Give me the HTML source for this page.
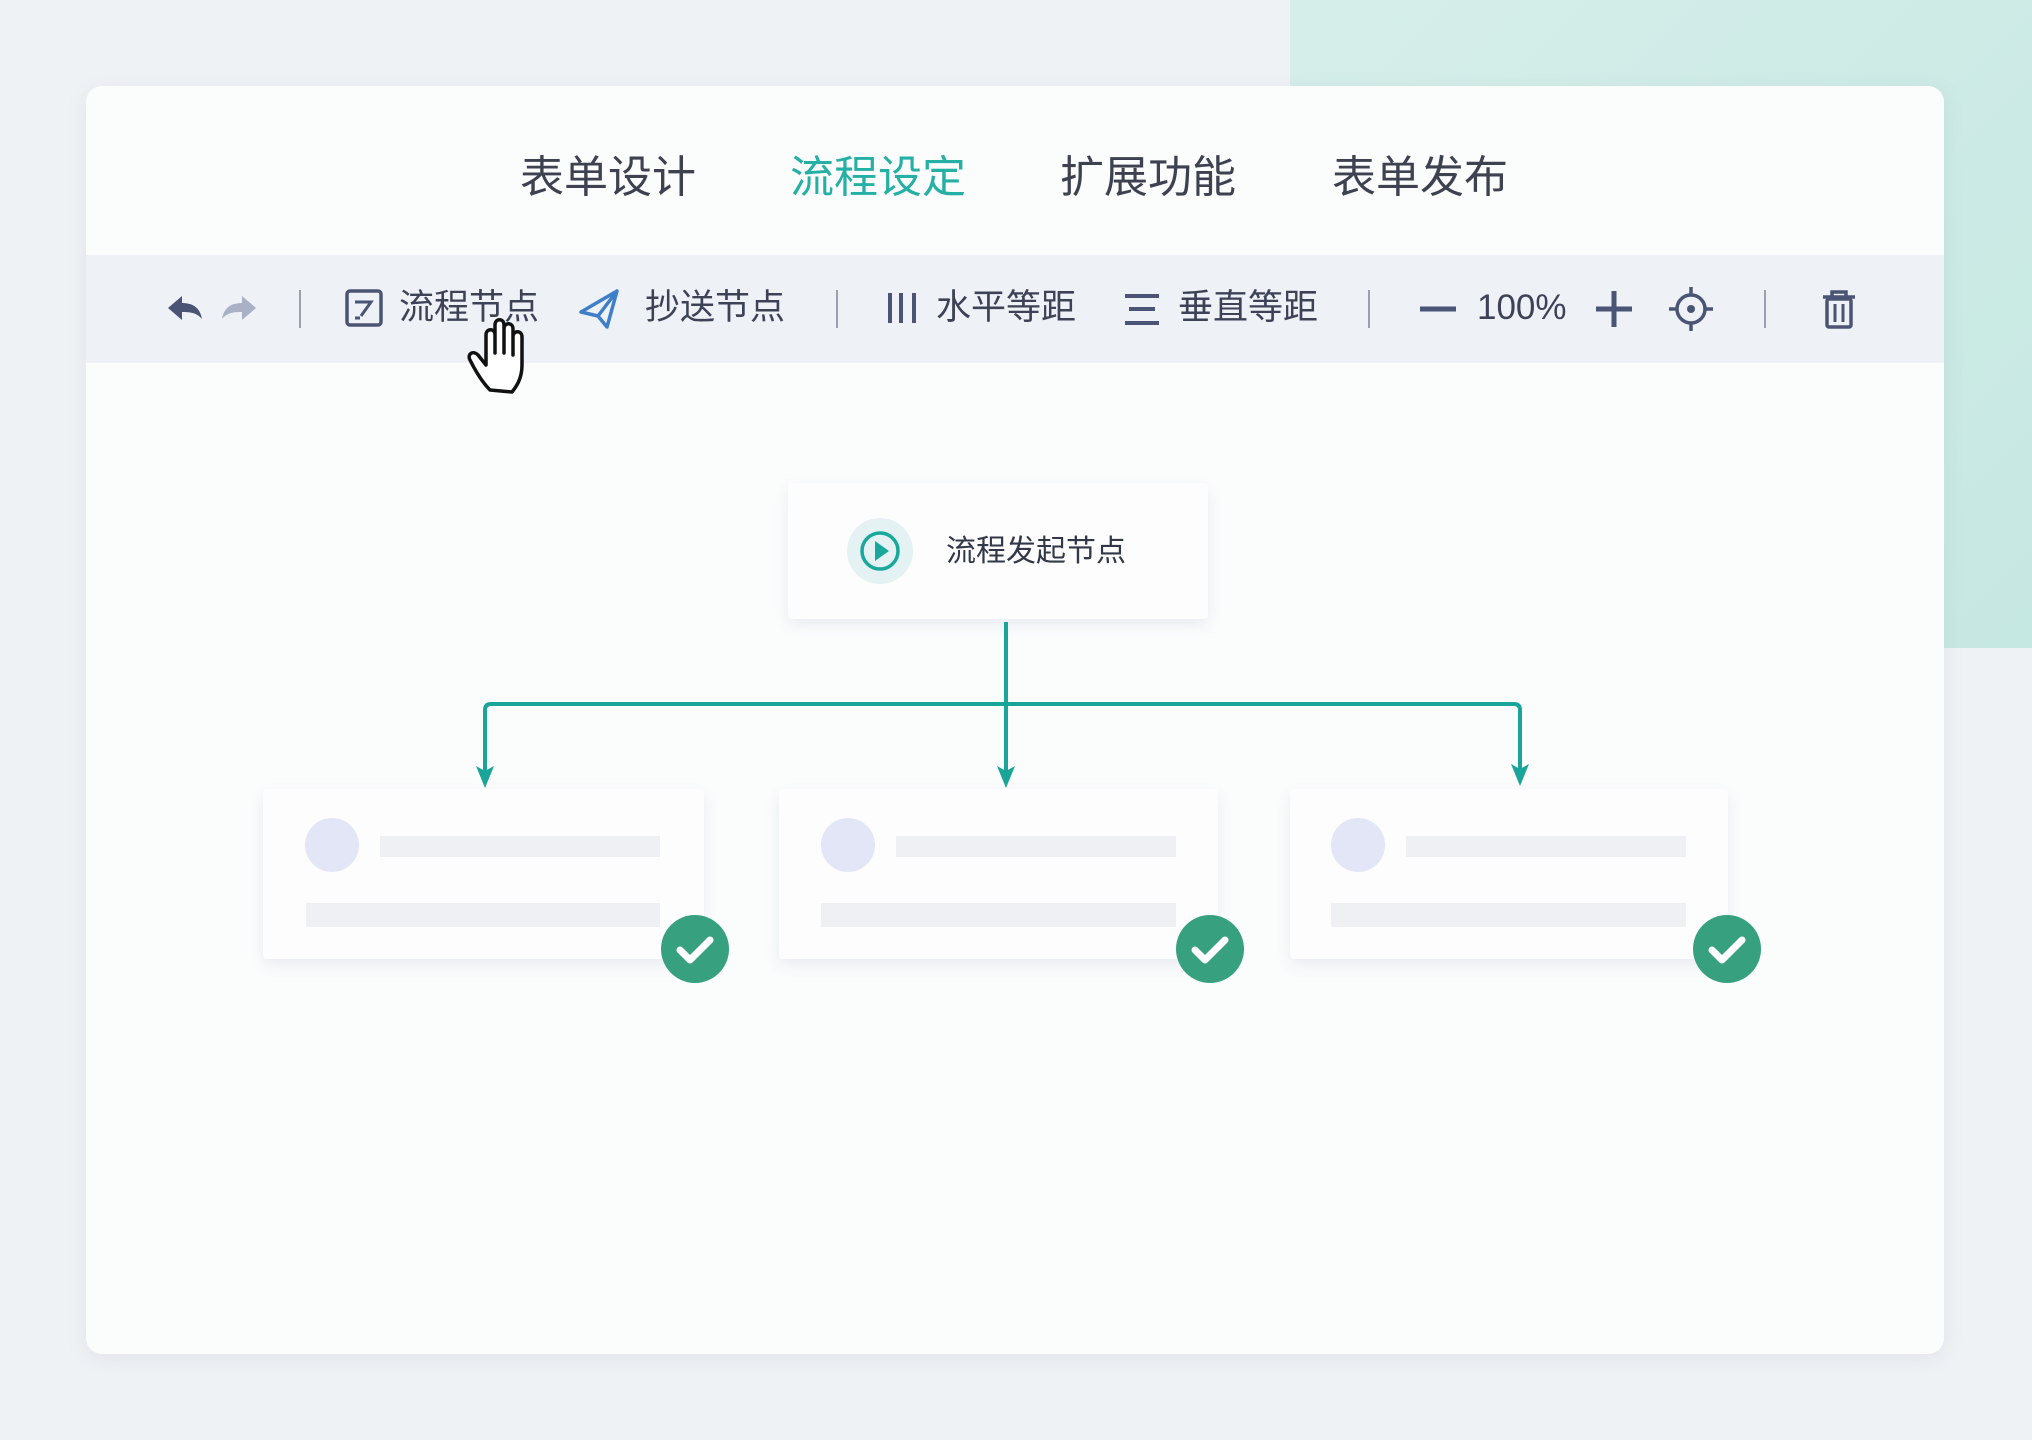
<!DOCTYPE html>
<html><head><meta charset="utf-8"><style>
*{margin:0;padding:0;box-sizing:border-box}
body{width:2032px;height:1440px;overflow:hidden;background:#eff2f5;position:relative;font-family:"Liberation Sans","Noto Sans CJK SC",sans-serif}
.abs{position:absolute}
.teal{left:1290px;top:0;width:742px;height:648px;background:linear-gradient(135deg,#d6eeea,#c6e8e2)}
.card{left:86px;top:86px;width:1858px;height:1268px;background:#fbfcfc;border-radius:16px;box-shadow:0 4px 20px rgba(120,140,160,.12)}
.tab{top:148px;font-size:44px;color:#3d4150;line-height:60px;white-space:nowrap}
.bar{left:86px;top:255px;width:1858px;height:108px;background:#eef1f6}
.tt{top:288px;font-size:35px;color:#3d4257;line-height:40px;white-space:nowrap}
.sep{top:290px;width:2px;height:38px;background:#9aa0ad}
.node{background:#fdfdfd;box-shadow:0 6px 14px rgba(110,120,170,.12);border-radius:4px}
.c{border-radius:50%;background:#e3e6f6}
.b{background:#eef0f3}
</style></head><body>
<div class="abs teal"></div>
<div class="abs card"></div>
<div class="abs tab" style="left:520px">表单设计</div>
<div class="abs tab" style="left:790px;color:#25b0a6">流程设定</div>
<div class="abs tab" style="left:1060px">扩展功能</div>
<div class="abs tab" style="left:1332px">表单发布</div>
<div class="abs bar"></div>
<div class="abs sep" style="left:299px"></div>
<div class="abs sep" style="left:836px"></div>
<div class="abs sep" style="left:1368px"></div>
<div class="abs sep" style="left:1764px"></div>
<div class="abs tt" style="left:399px">流程节点</div>
<div class="abs tt" style="left:645px">抄送节点</div>
<div class="abs tt" style="left:936px">水平等距</div>
<div class="abs tt" style="left:1178px">垂直等距</div>
<div class="abs tt" style="left:1477px">100%</div>

<div class="abs node" style="left:788px;top:483px;width:420px;height:136px"></div>
<div class="abs" style="left:946px;top:532px;font-size:30px;color:#333848;line-height:40px">流程发起节点</div>

<div class="abs node" style="left:263px;top:789px;width:441px;height:170px"></div>
<div class="abs node" style="left:779px;top:789px;width:439px;height:170px"></div>
<div class="abs node" style="left:1290px;top:789px;width:438px;height:170px"></div>
<div class="abs c" style="left:305px;top:818px;width:54px;height:54px"></div>
<div class="abs b" style="left:380px;top:836px;width:280px;height:21px"></div>
<div class="abs b" style="left:306px;top:903px;width:354px;height:24px"></div>
<div class="abs c" style="left:821px;top:818px;width:54px;height:54px"></div>
<div class="abs b" style="left:896px;top:836px;width:280px;height:21px"></div>
<div class="abs b" style="left:821px;top:903px;width:355px;height:24px"></div>
<div class="abs c" style="left:1331px;top:818px;width:54px;height:54px"></div>
<div class="abs b" style="left:1406px;top:836px;width:280px;height:21px"></div>
<div class="abs b" style="left:1331px;top:903px;width:355px;height:24px"></div>

<svg class="abs" style="left:0;top:0" width="2032" height="1440" viewBox="0 0 2032 1440">
<!-- undo/redo -->
<path d="M168 308 l14 -12 v7 c10 0 18 4 20 16 c-5 -6 -11 -7 -20 -7 v8z" fill="#4a5475"/>
<path d="M256 308 l-14 -12 v7 c-10 0 -18 4 -20 16 c5 -6 11 -7 20 -7 v8z" fill="#aab0c6"/>
<!-- form icon -->
<rect x="347" y="291" width="34" height="34" rx="3" fill="none" stroke="#4a5475" stroke-width="3.5"/>
<path d="M355 302h16l-10 14M355 318h5" stroke="#4a5475" stroke-width="3" fill="none"/>
<!-- send icon -->
<path d="M581 312 L617 291 L607 327 L598 316z M598 316 L617 291" stroke="#3f7fc9" stroke-width="3.5" fill="none" stroke-linejoin="round"/>
<!-- horizontal equal -->
<path d="M890 293v30M901 293v30M914 293v30" stroke="#4a5475" stroke-width="4"/>
<!-- vertical equal -->
<path d="M1125 296h34M1129 309h26M1125 323h34" stroke="#4a5475" stroke-width="4"/>
<!-- minus plus -->
<path d="M1420 309h36" stroke="#4a5475" stroke-width="5"/>
<path d="M1596 309h36M1614 291v36" stroke="#4a5475" stroke-width="5"/>
<!-- target -->
<circle cx="1691" cy="309" r="14" fill="none" stroke="#4a5475" stroke-width="3.5"/>
<circle cx="1691" cy="309" r="4" fill="#4a5475"/>
<path d="M1691 287v8M1691 323v8M1669 309h8M1705 309h8" stroke="#4a5475" stroke-width="3.5"/>
<!-- trash -->
<path d="M1823 297h32M1832 297v-5h14v5" stroke="#4a5475" stroke-width="3.5" fill="none"/>
<rect x="1827" y="299" width="24" height="28" rx="2" fill="none" stroke="#4a5475" stroke-width="3.5"/>
<path d="M1835 304v18M1843 304v18" stroke="#4a5475" stroke-width="3"/>
<!-- hand cursor -->
<path d="M490 390 c-8 -8 -16 -22 -20 -30 c-3 -6 3 -10 8 -5 l8 10 v-30 c0 -7 9 -7 9 0 v18 v-28 c0 -7 9 -7 9 0 v28 v-24 c0 -7 9 -7 9 0 v26 v-18 c0 -7 9 -7 9 0 v28 c0 14 -6 22 -10 27z" fill="#fff" stroke="#111" stroke-width="3.5" stroke-linejoin="round"/>
<!-- play icon -->
<circle cx="880" cy="551" r="33" fill="#e4f2f3"/>
<circle cx="880" cy="551" r="18" fill="none" stroke="#1aa79c" stroke-width="3.5"/>
<path d="M875 541 l14 10 l-14 10z" fill="#1aa79c"/>
<!-- connectors -->
<g stroke="#1aa59a" stroke-width="4" fill="none">
<path d="M1006 622 V776"/>
<path d="M485 776 V710 q0 -6 6 -6 H1514 q6 0 6 6 V776"/>
</g>
<g fill="#1aa59a">
<path d="M476 766 l9 22 l9 -22 l-9 5z"/>
<path d="M997 766 l9 22 l9 -22 l-9 5z"/>
<path d="M1511 764 l9 22 l9 -22 l-9 5z"/>
</g>
<!-- checks -->
<g>
<circle cx="695" cy="949" r="34" fill="#37a07f"/>
<circle cx="1210" cy="949" r="34" fill="#37a07f"/>
<circle cx="1727" cy="949" r="34" fill="#37a07f"/>
<path d="M680 950 l10 10 l20 -20 M1195 950 l10 10 l20 -20 M1712 950 l10 10 l20 -20" stroke="#fff" stroke-width="7" fill="none" stroke-linecap="round" stroke-linejoin="round"/>
</g>
</svg>
</body></html>
